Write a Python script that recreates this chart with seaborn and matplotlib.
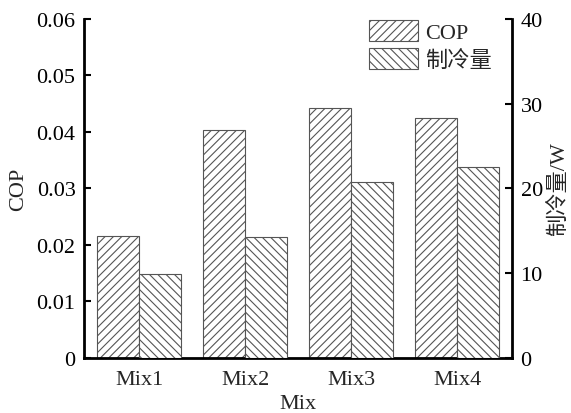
import matplotlib
matplotlib.use("Agg")
import matplotlib.pyplot as plt
from matplotlib.patches import Patch
import seaborn as sns
import pandas as pd

categories = ["Mix1", "Mix2", "Mix3", "Mix4"]
cop_values = [0.0216, 0.0404, 0.0442, 0.0425]
cooling_values = [9.9, 14.3, 20.8, 22.5]
series_names = ["COP", "制冷量"]

sns.set_theme(style="white")
plt.rcParams["font.family"] = ["Liberation Serif", "Noto Sans CJK SC", "DejaVu Sans"]
plt.rcParams["hatch.linewidth"] = 0.8
plt.rcParams["hatch.color"] = "#333333"

df_cop = pd.DataFrame({"Mix": categories, "value": cop_values, "series": series_names[0]})
df_cool = pd.DataFrame({"Mix": categories, "value": cooling_values, "series": series_names[1]})

fig = plt.figure(figsize=(5.71, 4.14), dpi=100)
ax = fig.add_axes([0.147, 0.133, 0.75, 0.819])
ax2 = ax.twinx()

sns.barplot(data=df_cop, x="Mix", y="value", hue="series", hue_order=series_names,
            order=categories, ax=ax, width=0.8, dodge=True, palette=["white", "white"],
            edgecolor="#555555", linewidth=0.8, legend=False)
sns.barplot(data=df_cool, x="Mix", y="value", hue="series", hue_order=series_names,
            order=categories, ax=ax2, width=0.8, dodge=True, palette=["white", "white"],
            edgecolor="#555555", linewidth=0.8, legend=False)

for p in ax.patches:
    p.set_hatch("////")
for p in ax2.patches:
    p.set_hatch("\\\\\\\\")

ax.set_xlim(-0.52, 3.52)
ax.set_ylim(0, 0.06)
ax2.set_ylim(0, 40)
ax.set_yticks([0, 0.01, 0.02, 0.03, 0.04, 0.05, 0.06])
ax.set_yticklabels(["0", "0.01", "0.02", "0.03", "0.04", "0.05", "0.06"])
ax2.set_yticks([0, 10, 20, 30, 40])

fs = 16
ax.set_xlabel("Mix", fontsize=fs, labelpad=3)
ax.set_ylabel("COP", fontsize=fs, labelpad=6)
ax2.set_ylabel("制冷量/W", fontsize=fs, labelpad=4)

for a in (ax, ax2):
    a.spines["top"].set_visible(False)
    for s in a.spines.values():
        s.set_linewidth(2.0)
        s.set_color("black")
    a.tick_params(axis="y", direction="in", length=5, width=1.5, labelsize=fs, colors="black", pad=6)
    a.tick_params(axis="x", length=0, labelsize=fs, pad=9)
    a.grid(False)
ax.spines["right"].set_visible(False)
ax2.spines["left"].set_visible(False)
ax2.spines["bottom"].set_visible(False)

handles = [
    Patch(facecolor="white", edgecolor="#555555", hatch="////", linewidth=0.8, label=series_names[0]),
    Patch(facecolor="white", edgecolor="#555555", hatch="\\\\\\\\", linewidth=0.8, label=series_names[1]),
]
ax2.legend(handles=handles, loc="upper left", bbox_to_anchor=(0.665, 0.997), frameon=False,
           fontsize=fs, handlelength=2.2, handleheight=1.1, handletextpad=0.35, labelspacing=0.2,
           borderaxespad=0.0, borderpad=0.0)

fig.savefig("out.png", dpi=100)
